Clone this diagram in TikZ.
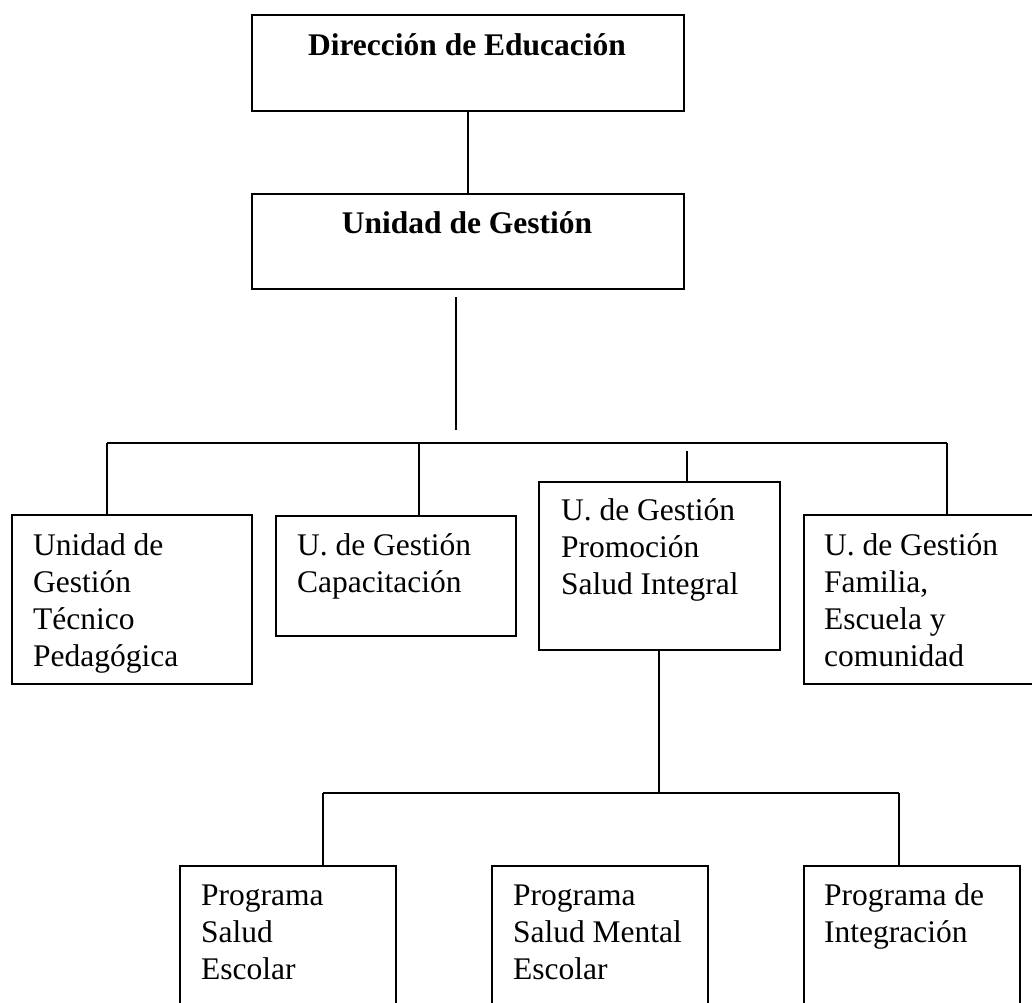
\documentclass[tikz,border=0pt]{standalone}
\usepackage{fontspec}
\setmainfont{Liberation Serif}
\usetikzlibrary{positioning}

\begin{document}
\begin{tikzpicture}[
    x=1pt, y=-1pt,
    line width=2.2pt,
    every node/.style={
        font=\fontsize{31.5}{37}\selectfont
    },
    box/.style={
        rectangle,
        draw,
        anchor=north west,
        inner sep=0pt
    },
    title/.style={
        anchor=base,
        inner sep=0pt,
        font=\fontsize{31.5}{37}\selectfont\bfseries
    },
    txt/.style={
        anchor=base west,
        inner sep=0pt,
        align=left
    }
]
\useasboundingbox (0,0) rectangle (1032,1002);
\clip (0,0) rectangle (1032,1002);

% boxes
\node (n1) [box, minimum width=432pt, minimum height=96pt]  at (251,14)  {};
\node (n2) [box, minimum width=432pt, minimum height=95pt]  at (251,193) {};
\node (n3) [box, minimum width=240pt, minimum height=169pt] at (11,514)  {};
\node (n4) [box, minimum width=240pt, minimum height=120pt] at (275,515) {};
\node (n5) [box, minimum width=241pt, minimum height=168pt] at (538,481) {};
\node (n6) [box, minimum width=240pt, minimum height=169pt] at (803,514) {};
\node (n7) [box, minimum width=216pt, minimum height=150pt] at (179,865) {};
\node (n8) [box, minimum width=216pt, minimum height=150pt] at (491,865) {};
\node (n9) [box, minimum width=216pt, minimum height=150pt] at (803,865) {};

% texts (placed at the baseline of the last line)
\node (n1t) [title] at (467,55)  {Dirección de Educación};
\node (n2t) [title] at (467,233) {Unidad de Gestión};
\node (n3t) [txt]   at (32,666)  {Unidad de\\Gestión\\Técnico\\Pedagógica};
\node (n4t) [txt]   at (296,592) {U. de Gestión\\Capacitación};
\node (n5t) [txt]   at (560,594) {U. de Gestión\\Promoción\\Salud Integral};
\node (n6t) [txt]   at (823,666) {U. de Gestión\\Familia,\\Escuela y\\comunidad};
\node (n7t) [txt]   at (200,979) {Programa\\Salud\\Escolar};
\node (n8t) [txt]   at (512,979) {Programa\\Salud Mental\\Escolar};
\node (n9t) [txt]   at (823,942) {Programa de\\Integración};

% connectors
\coordinate (c1) at (456,297);
\coordinate (c2) at (456,430);
\coordinate (bl) at (107,443);
\coordinate (bm) at (419,443);
\coordinate (br) at (947,443);
\coordinate (tk) at (687,451);
\coordinate (sl) at (323,793);
\coordinate (sm) at (659,793);
\coordinate (sr) at (899,793);

\draw (n1.south) -- (n2.north);
\draw (c1) -- (c2);

\draw (bl) -- (br);
\draw (bl) -- ([xshift=96pt]n3.north west);
\draw (bm) -- ([xshift=144pt]n4.north west);
\draw (tk) -- ([xshift=149pt]n5.north west);
\draw (br) -- ([xshift=144pt]n6.north west);

\draw ([xshift=121pt]n5.south west) -- (sm);
\draw (sl) -- (sr);
\draw (sl) -- ([xshift=144pt]n7.north west);
\draw (sr) -- ([xshift=96pt]n9.north west);
\end{tikzpicture}
\end{document}
